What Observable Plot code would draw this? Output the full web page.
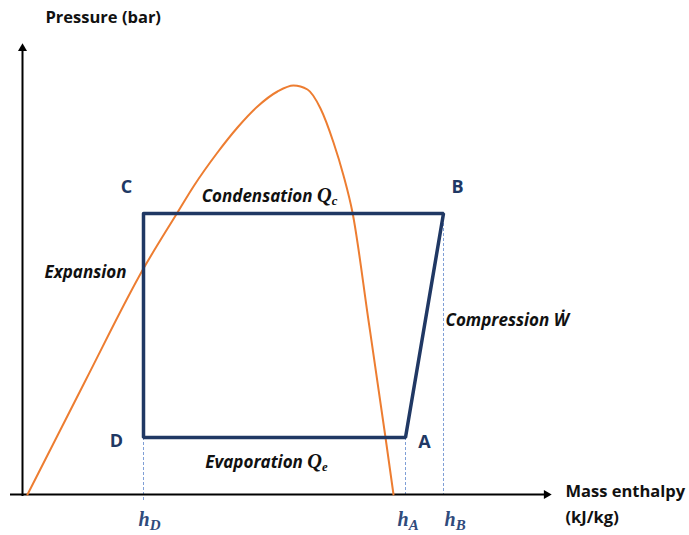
<!DOCTYPE html>
<html><head><meta charset="utf-8">
<script src="https://cdn.jsdelivr.net/npm/d3@7"></script>
<script src="https://cdn.jsdelivr.net/npm/@observablehq/plot@0.6"></script>
<style>body{margin:0;background:#fff}</style>
</head><body><div id="chart"></div>
<script>
// Refrigeration cycle on a pressure–enthalpy diagram (schematic units)
const cycleNames = ["C", "B", "A", "D"];
const cycleH = [12.1, 42.1, 38.3, 12.1];
const cycleP = [28.1, 28.1, 5.7, 5.7];

// Saturation dome (orange curve)
const domeH = [0.5, 6.3, 12.1, 15.5, 17.1, 19.5, 21.5, 23.5, 25.5, 27.1, 28.5, 29.8, 31.1, 32.1, 33.0, 34.6, 36.3, 37.1];
const domeP = [0.0, 11.4, 22.6, 28.2, 30.8, 34.2, 36.7, 38.8, 40.3, 40.9, 40.5, 38.6, 35.2, 31.9, 28.2, 17.4, 5.7, 0.0];

// Enthalpy markers
const tickLabels = ["hD", "hA", "hB"];
const tickH = [12.1, 38.3, 42.1];
const tickTopP = [5.7, 5.7, 28.1];

// Axis extents
const xAxisStart = -1.2, xAxisEnd = 53.0;
const yAxisBottom = -0.2, yAxisTop = 45.2;

const navy = "#203864";
const orange = "#ED7D31";
const dashBlue = "#7F9FD6";

const cycle = cycleNames.map((n, i) => ({name: n, h: cycleH[i], p: cycleP[i]}));
const loop = [...cycle, cycle[0]];
const dome = domeH.map((h, i) => ({h, p: domeP[i]}));
const ticks = tickLabels.map((t, i) => ({t, h: tickH[i], top: tickTopP[i]}));
const pt = n => cycle.filter(d => d.name === n);
const mid = (a, b) => [{h: (pt(a)[0].h + pt(b)[0].h) / 2, p: (pt(a)[0].p + pt(b)[0].p) / 2}];

const sans = "'Open Sans', 'Noto Sans', sans-serif";
const labelStyle = {fontFamily: sans, fontWeight: "bold", fontStyle: "italic", fontSize: 17, fill: "#111"};
const titleStyle = {fontFamily: sans, fontWeight: "bold", fontSize: 16.5, fill: "#111", textAnchor: "start"};
const cornerStyle = {fontFamily: sans, fontWeight: "bold", fontSize: 18, fill: navy};
const tickStyle = {fontFamily: "'Liberation Serif', serif", fontWeight: "bold", fontStyle: "italic", fontSize: 20, fill: "#2F4B7C", textAnchor: "start"};

const chart = Plot.plot({
  width: 689, height: 535, margin: 0,
  x: {domain: [-2.2, 66.7], axis: null},
  y: {domain: [-4.1, 49.4], axis: null},
  style: {background: "#fff", fontFamily: sans},
  marks: [
    // dashed enthalpy guides
    Plot.ruleX(ticks.slice(0, 1), {x: "h", y1: "top", y2: -0.6, stroke: dashBlue, strokeWidth: 1, strokeDasharray: "3,2"}),
    Plot.ruleX(ticks.slice(1), {x: "h", y1: "top", y2: 0, stroke: dashBlue, strokeWidth: 1, strokeDasharray: "3,2"}),
    // axes
    Plot.ruleY([0], {x1: xAxisStart, x2: xAxisEnd - 0.6, stroke: "#000", strokeWidth: 2}),
    Plot.ruleX([0], {y1: yAxisBottom, y2: yAxisTop - 0.6, stroke: "#000", strokeWidth: 2}),
    Plot.dot([{h: xAxisEnd, p: 0}], {x: "h", y: "p", dx: -6, symbol: "triangle2", r: 4.3, rotate: 90, fill: "#000", stroke: null}),
    Plot.dot([{h: 0, p: yAxisTop}], {x: "h", y: "p", dy: 6, symbol: "triangle2", r: 4.3, fill: "#000", stroke: null}),
    // saturation dome
    Plot.line(dome, {x: "h", y: "p", curve: "monotone-x", stroke: orange, strokeWidth: 2}),
    // cycle
    Plot.line(loop, {x: "h", y: "p", stroke: navy, strokeWidth: 3.5, strokeLinejoin: "miter"}),
    // corner letters
    Plot.text(pt("C"), {x: "h", y: "p", text: "name", dx: -17, dy: -26, ...cornerStyle}),
    Plot.text(pt("B"), {x: "h", y: "p", text: "name", dx: 14, dy: -26, ...cornerStyle}),
    Plot.text(pt("D"), {x: "h", y: "p", text: "name", dx: -27, dy: 4, ...cornerStyle}),
    Plot.text(pt("A"), {x: "h", y: "p", text: "name", dx: 19, dy: 5, ...cornerStyle}),
    // process labels
    Plot.text(mid("C", "B"), {x: "h", y: "p", text: () => "Condensation Qc", dx: -24, dy: -17, ...labelStyle}),
    Plot.text(mid("D", "A"), {x: "h", y: "p", text: () => "Evaporation Qe", dx: -8, dy: 25, ...labelStyle}),
    Plot.text(pt("C"), {x: "h", y: "p", text: () => "Expansion", dx: -17, dy: 59, textAnchor: "end", ...labelStyle}),
    Plot.text(pt("B"), {x: "h", y: "p", text: () => "Compression Ẇ", dx: 2, dy: 107, textAnchor: "start", ...labelStyle}),
    // axis titles
    Plot.text([{h: 0, p: yAxisTop}], {x: "h", y: "p", text: () => "Pressure (bar)", dx: 23, dy: -25, ...titleStyle}),
    Plot.text([{h: xAxisEnd, p: 0}], {x: "h", y: "p", text: () => "Mass enthalpy", dx: 13, dy: -3, ...titleStyle}),
    Plot.text([{h: xAxisEnd, p: 0}], {x: "h", y: "p", text: () => "(kJ/kg)", dx: 13, dy: 23, ...titleStyle}),
    // enthalpy tick labels
    Plot.text(ticks.slice(0, 1), {x: "h", y: 0, text: "t", dx: -5, dy: 25, ...tickStyle}),
    Plot.text(ticks.slice(1, 2), {x: "h", y: 0, text: "t", dx: -8, dy: 25, ...tickStyle}),
    Plot.text(ticks.slice(2, 3), {x: "h", y: 0, text: "t", dx: 1, dy: 25, ...tickStyle})
  ]
});
document.getElementById("chart").append(chart);

// rich text: math-style letters and subscripts
const rich = {
  "Condensation Qc": [["Condensation ", ""], ["Q", "serif"], ["c", "sub"]],
  "Evaporation Qe": [["Evaporation ", ""], ["Q", "serif"], ["e", "sub"]],
  "hD": [["h", ""], ["D", "sub"]],
  "hA": [["h", ""], ["A", "sub"]],
  "hB": [["h", ""], ["B", "sub"]]
};
d3.select(chart).selectAll("text").each(function () {
  const parts = rich[this.textContent];
  if (!parts) return;
  const sel = d3.select(this);
  sel.text(null);
  parts.forEach(([t, kind]) => {
    const ts = sel.append("tspan").text(t);
    if (kind === "serif" || kind === "sub") ts.attr("font-family", "'Liberation Serif', serif");
    if (kind === "serif") ts.attr("font-size", "1.2em");
    if (kind === "sub") ts.attr("font-size", "0.75em").attr("dy", "0.25em");
  });
});
</script>
</body></html>
